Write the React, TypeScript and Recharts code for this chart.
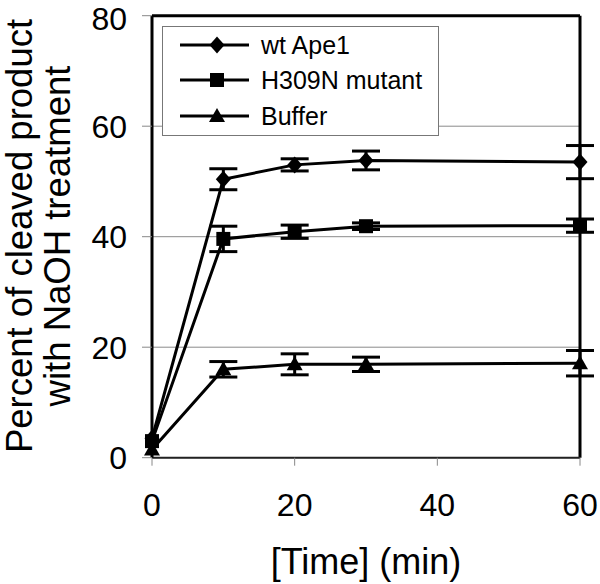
import React from 'react';
import { LineChart, Line, XAxis, YAxis, CartesianGrid, ErrorBar, ReferenceLine, Legend } from 'recharts';

const times = [0, 10, 20, 30, 60];
const wtApe1 = [3.5, 50.4, 53.0, 53.8, 53.5];
const wtApe1Err = [0, 1.9, 1.1, 1.7, 3.0];
const h309n = [3.0, 39.6, 40.9, 41.9, 42.0];
const h309nErr = [0, 2.3, 1.2, 0.6, 1.2];
const buffer = [1.5, 16.0, 16.9, 16.9, 17.1];
const bufferErr = [0, 1.4, 1.9, 1.3, 2.3];
const xTicks = [0, 20, 40, 60];
const yTicks = [0, 20, 40, 60, 80];
const seriesNames = ['wt Ape1', 'H309N mutant', 'Buffer'];

const data = times.map((t, i) => ({
  t,
  wt: wtApe1[i],
  wtErr: wtApe1Err[i],
  h: h309n[i],
  hErr: h309nErr[i],
  buf: buffer[i],
  bufErr: bufferErr[i],
}));

const FONT = '"Liberation Sans", Arial, sans-serif';

const Diamond = ({ cx, cy }: any) => (
  <polygon points={`${cx},${cy - 8.5} ${cx + 7.5},${cy} ${cx},${cy + 8.5} ${cx - 7.5},${cy}`} fill="#000" />
);
const Square = ({ cx, cy }: any) => <rect x={cx - 7} y={cy - 7} width={14} height={14} fill="#000" />;
const Triangle = ({ cx, cy }: any) => (
  <polygon points={`${cx},${cy - 8} ${cx + 8},${cy + 6} ${cx - 8},${cy + 6}`} fill="#000" />
);

const markers = [Diamond, Square, Triangle];

const LegendContent = () => (
  <div
    style={{
      width: 277,
      height: 110,
      boxSizing: 'border-box',
      border: '1.5px solid #777',
      background: '#fff',
      fontFamily: FONT,
      fontSize: 25,
      color: '#000',
      paddingTop: 0,
    }}
  >
    {seriesNames.map((name, i) => {
      const M = markers[i];
      return (
        <div key={name} style={{ display: 'flex', alignItems: 'center', height: 35.5 }}>
          <svg width={98} height={30} style={{ flex: 'none' }}>
            <line x1={17} y1={15} x2={86} y2={15} stroke="#000" strokeWidth={3} />
            <M cx={54} cy={15} />
          </svg>
          <span style={{ lineHeight: '30px' }}>{name}</span>
        </div>
      );
    })}
  </div>
);

const YTitle = () => (
  <g fontFamily={FONT} fontSize={36.5} fill="#000">
    <text transform="translate(32,236) rotate(-90)" textAnchor="middle">
      Percent of cleaved product
    </text>
    <text transform="translate(70,236) rotate(-90)" textAnchor="middle">
      with NaOH treatment
    </text>
  </g>
);

const XTitle = (props: any) => {
  const vb = props.viewBox || { x: 152, y: 457.7, width: 428 };
  return (
    <text x={vb.x + vb.width / 2} y={vb.y + 116} textAnchor="middle" fontFamily={FONT} fontSize={36} fill="#000">
      [Time] (min)
    </text>
  );
};

export default function App() {
  return (
    <div style={{ position: 'absolute', left: 0, top: 0, width: 600, height: 584, background: '#fff' }}>
      <LineChart width={600} height={584} data={data} margin={{ top: 15.7, right: 20, bottom: 0, left: 12 }}>
        <CartesianGrid vertical={false} stroke="#8a8a8a" strokeWidth={1} />
        <XAxis
          dataKey="t"
          type="number"
          domain={[0, 60]}
          ticks={xTicks}
          height={126.3}
          axisLine={{ stroke: '#222', strokeWidth: 2 }}
          tickLine={{ stroke: '#888', strokeWidth: 1 }}
          tickSize={8}
          tickMargin={28}
          tick={{ fontSize: 32, fill: '#000', fontFamily: FONT }}
          label={<XTitle />}
        />
        <YAxis
          type="number"
          domain={[0, 80]}
          ticks={yTicks}
          width={140}
          axisLine={{ stroke: '#000', strokeWidth: 3 }}
          tickLine={{ stroke: '#888', strokeWidth: 1 }}
          tickSize={10}
          tickMargin={15}
          tick={{ fontSize: 32, fill: '#000', fontFamily: FONT }}
          label={<YTitle />}
        />
        <ReferenceLine y={80} stroke="#000" strokeWidth={3} />
        <ReferenceLine x={60} stroke="#000" strokeWidth={3} />
        <Legend
          layout="vertical"
          align="center"
          verticalAlign="middle"
          content={<LegendContent />}
          wrapperStyle={{ left: 162, top: 26, width: 277, height: 110 }}
        />
        <Line
          dataKey="wt"
          stroke="#000"
          strokeWidth={3}
          dot={(p: any) => <Diamond key={`d${p.index}`} cx={p.cx} cy={p.cy} />}
          isAnimationActive={false}
        >
          <ErrorBar dataKey="wtErr" width={14} stroke="#000" strokeWidth={3} direction="y" />
        </Line>
        <Line
          dataKey="h"
          stroke="#000"
          strokeWidth={3}
          dot={(p: any) => <Square key={`s${p.index}`} cx={p.cx} cy={p.cy} />}
          isAnimationActive={false}
        >
          <ErrorBar dataKey="hErr" width={14} stroke="#000" strokeWidth={3} direction="y" />
        </Line>
        <Line
          dataKey="buf"
          stroke="#000"
          strokeWidth={3}
          dot={(p: any) => <Triangle key={`t${p.index}`} cx={p.cx} cy={p.cy} />}
          isAnimationActive={false}
        >
          <ErrorBar dataKey="bufErr" width={14} stroke="#000" strokeWidth={3} direction="y" />
        </Line>
      </LineChart>
    </div>
  );
}
